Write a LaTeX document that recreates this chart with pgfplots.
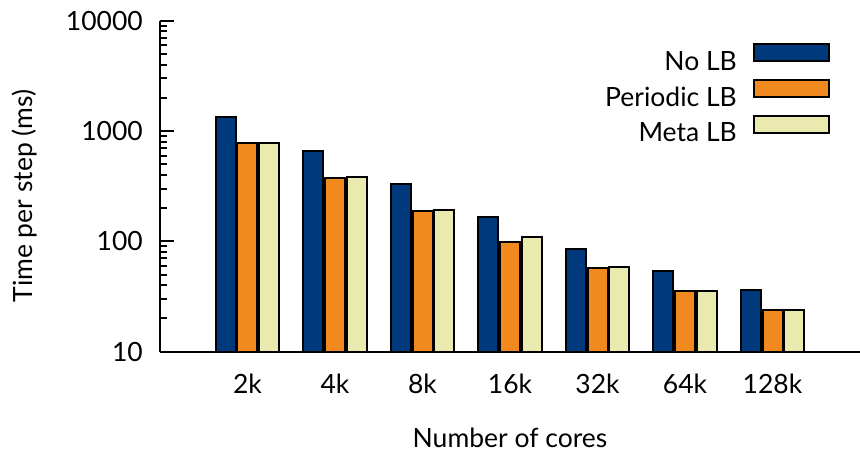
\documentclass[border=0pt]{standalone}
\usepackage{fontspec}
\setmainfont{Lato}
\usepackage{pgfplots}
\pgfplotsset{compat=1.18}
\definecolor{cnavy}{RGB}{0,58,125}
\definecolor{corange}{RGB}{240,138,30}
\definecolor{cyellow}{RGB}{233,233,176}
\newcommand\F{\fontsize{26.5bp}{31bp}\selectfont}
\begin{document}
\begin{tikzpicture}
\begin{axis}[name=ax,
  scale only axis, width=700bp, height=331bp,
  ymode=log, log basis y=10, ymin=10, ymax=10000,
  xmin=-1, xmax=7,
  axis lines=left, axis line style={-, line width=2.2bp},
  axis on top,
  ybar=1.6bp, bar width=20bp,
  xtick={0,...,6}, xticklabels={2k,4k,8k,16k,32k,64k,128k},
  ytick={10,100,1000,10000}, yticklabels={10,100,1000,10000},
  minor ytick={20,30,40,50,60,70,80,90,200,300,400,500,600,700,800,900,2000,3000,4000,5000,6000,7000,8000,9000},
  major x tick style=transparent,
  tick align=inside,
  major tick length=14bp, minor tick length=7bp,
  every tick/.append style={black, line width=2bp},
  ticklabel style={font=\F},
  yticklabel style={inner sep=0pt, xshift=-17bp},
  xticklabel style={inner sep=0pt, anchor=north, yshift=-22bp},
  label style={font=\F},
  xlabel={Number of cores},
  ylabel={Time per step (ms)},
  xlabel style={at={(axis description cs:0.5,0)}, anchor=north, inner sep=0pt, yshift=-76bp},
  ylabel style={at={(axis description cs:-0.193,0.47)}, anchor=center, rotate=0},
  legend plot pos=right,
  legend cell align=right,
  legend style={at={(axis description cs:1,1)}, anchor=north east, xshift=-30bp, yshift=-22bp,
    draw=none, fill=none, inner sep=0pt, row sep=7bp, column sep=16bp, font=\F,
    nodes={inner sep=0pt}},
  legend image code/.code={\draw[#1, line width=2bp] (0bp,0.5bp) rectangle (75bp,17.5bp);},
]
\addplot[fill=cnavy, draw=black, line width=2bp] coordinates {(0,1340) (1,658) (2,332) (3,168) (4,85) (5,54) (6,36)};
\addplot[fill=corange, draw=black, line width=2bp] coordinates {(0,773) (1,377) (2,190) (3,99) (4,57.3) (5,35.6) (6,23.8)};
\addplot[fill=cyellow, draw=black, line width=2bp] coordinates {(0,773) (1,380) (2,193) (3,110) (4,58) (5,35.6) (6,23.8)};
\legend{No LB, Periodic LB, Meta LB}
\end{axis}
\pgfresetboundingbox
\path ([xshift=-160bp,yshift=-100bp]ax.south west) rectangle ([yshift=20.7bp]ax.north east);
\end{tikzpicture}
\end{document}
